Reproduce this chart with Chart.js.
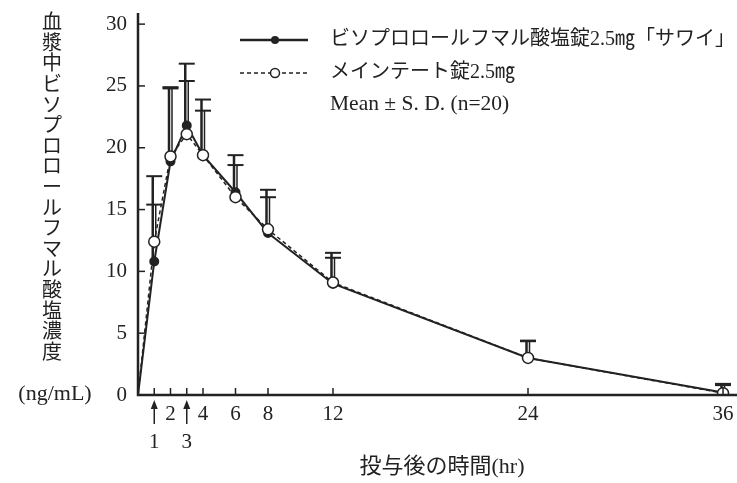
<!DOCTYPE html>
<html>
<head>
<meta charset="utf-8">
<script src="https://cdn.jsdelivr.net/npm/chart.js@4.4.1/dist/chart.umd.min.js"></script>
<style>
  body { margin: 0; background: #fff; }
  #wrap { width: 737px; height: 483px; }
</style>
</head>
<body>
<div id="wrap"><canvas id="chart"></canvas></div>
<script>
// hours after dosing
const times = [0, 1, 2, 3, 4, 6, 8, 12, 24, 36];
// ビソプロロールフマル酸塩錠2.5mg「サワイ」 (mean, mean+SD)
const sawaiMean  = [0, 10.8, 18.9, 21.8, 19.4, 16.4, 13.1, 9.0, 3.0, 0.2];
const sawaiUpper = [null, 17.7, 24.9, 26.8, 23.9, 19.4, 16.6, 11.5, 4.4, 0.9];
// メインテート錠2.5mg
const meinMean   = [0, 12.4, 19.3, 21.1, 19.4, 16.0, 13.4, 9.1, 3.0, 0.15];
const meinUpper  = [null, 15.4, 24.8, 25.4, 23.0, 18.6, 16.0, 11.1, 4.35, 0.8];

const xTicks = [1, 2, 3, 4, 6, 8, 12, 24, 36];
const xArrowTicks = [1, 3];   // dosing marks, label sits under an arrow
const yTicks = [0, 5, 10, 15, 20, 25, 30];

const legendLabels = ['ビソプロロールフマル酸塩錠2.5㎎「サワイ」', 'メインテート錠2.5㎎', 'Mean ± S. D. (n=20)'];
const yTitle = '血漿中ビソプロロールフマル酸塩濃度';
const yUnit = '(ng/mL)';
const xTitle = '投与後の時間(hr)';

const serif = '"Liberation Serif", "DejaVu Serif", "Noto Sans CJK JP", serif';
const ink = '#222';

const toXY = (means) => times.map((t, i) => ({ x: t, y: means[i] }));
// no marker at the origin
const radii = (r) => times.map(t => t === 0 ? 0 : r);

// axes, inside ticks, arrows, titles, legend, error bars
const decor = {
    id: 'decor',
    beforeDatasetsDraw(chart) {
        const { ctx, scales: { x, y } } = chart;
        const bars = [
            { upper: sawaiUpper, mean: sawaiMean, dx: -1.5, w: 2.5 },
            { upper: meinUpper, mean: meinMean, dx: 1.5, w: 1.5 }
        ];
        ctx.save();
        ctx.strokeStyle = ink;
        bars.forEach(b => {
            times.forEach((t, i) => {
                if (b.upper[i] == null) return;
                const px = x.getPixelForValue(t);
                const y0 = y.getPixelForValue(b.mean[i]);
                const y1 = y.getPixelForValue(b.upper[i]);
                ctx.lineWidth = b.w;
                ctx.beginPath();
                ctx.moveTo(px + b.dx, y0);
                ctx.lineTo(px + b.dx, y1);
                ctx.stroke();
                ctx.lineWidth = 2;
                ctx.beginPath();
                ctx.moveTo(px - 8, y1);
                ctx.lineTo(px + 8, y1);
                ctx.stroke();
            });
        });
        ctx.restore();
    },
    afterDraw(chart) {
        const { ctx, chartArea: a, scales: { x, y } } = chart;
        ctx.save();
        ctx.strokeStyle = ink;
        ctx.fillStyle = ink;

        // axis lines (x axis runs to the page edge)
        ctx.lineWidth = 2.5;
        ctx.beginPath();
        ctx.moveTo(a.left, a.top);
        ctx.lineTo(a.left, a.bottom);
        ctx.lineTo(chart.width, a.bottom);
        ctx.stroke();

        // inside tick marks
        ctx.lineWidth = 1.5;
        xTicks.forEach(t => {
            const px = x.getPixelForValue(t);
            ctx.beginPath();
            ctx.moveTo(px, a.bottom);
            ctx.lineTo(px, a.bottom - 7);
            ctx.stroke();
        });
        yTicks.forEach(v => {
            const py = y.getPixelForValue(v);
            ctx.beginPath();
            ctx.moveTo(a.left, py);
            ctx.lineTo(a.left + 7, py);
            ctx.stroke();
        });

        // dosing arrows
        xArrowTicks.forEach(t => {
            const px = x.getPixelForValue(t);
            ctx.lineWidth = 1.5;
            ctx.beginPath();
            ctx.moveTo(px, a.bottom + 29);
            ctx.lineTo(px, a.bottom + 12);
            ctx.stroke();
            ctx.beginPath();
            ctx.moveTo(px, a.bottom + 5);
            ctx.lineTo(px - 3.5, a.bottom + 14);
            ctx.lineTo(px + 3.5, a.bottom + 14);
            ctx.closePath();
            ctx.fill();
        });

        // y title, written vertically one character at a time
        ctx.font = '20px ' + serif;
        ctx.textAlign = 'center';
        ctx.textBaseline = 'middle';
        [...yTitle].forEach((ch, i) => {
            ctx.fillText(ch, 52, 24 + i * 20.6);
        });
        ctx.font = '22px ' + serif;
        ctx.fillText(yUnit, 55, 394);

        // x title
        ctx.fillText(xTitle, 442, 467);

        // legend
        const lx0 = 240, lx1 = 308, lm = 275, tx = 330;
        const rows = [40, 73, 104];
        ctx.lineWidth = 2.5;
        ctx.beginPath();
        ctx.moveTo(lx0, rows[0]);
        ctx.lineTo(lx1, rows[0]);
        ctx.stroke();
        ctx.beginPath();
        ctx.arc(lm, rows[0], 4, 0, Math.PI * 2);
        ctx.fill();

        ctx.lineWidth = 1.5;
        ctx.setLineDash([4, 3]);
        ctx.beginPath();
        ctx.moveTo(lx0, rows[1]);
        ctx.lineTo(lx1, rows[1]);
        ctx.stroke();
        ctx.setLineDash([]);
        ctx.fillStyle = '#fff';
        ctx.beginPath();
        ctx.arc(lm, rows[1], 4.5, 0, Math.PI * 2);
        ctx.fill();
        ctx.stroke();

        ctx.fillStyle = ink;
        ctx.textAlign = 'left';
        ctx.font = '20px ' + serif;
        ctx.fillText(legendLabels[0], tx, rows[0]);
        ctx.fillText(legendLabels[1], tx, rows[1]);
        ctx.font = '21.5px ' + serif;
        ctx.fillText(legendLabels[2], tx, rows[2]);
        ctx.restore();
    }
};

const ctx = document.getElementById('chart').getContext('2d');
new Chart(ctx, {
    type: 'line',
    data: {
        datasets: [
            {
                label: legendLabels[1],
                data: toXY(meinMean),
                borderColor: ink,
                borderWidth: 1.5,
                borderDash: [4, 3],
                pointRadius: radii(5.5),
                pointBackgroundColor: '#fff',
                pointBorderColor: ink,
                pointBorderWidth: 1.5,
                tension: 0,
                order: 1
            },
            {
                label: legendLabels[0],
                data: toXY(sawaiMean),
                borderColor: ink,
                borderWidth: 2,
                pointRadius: radii(4),
                pointBackgroundColor: ink,
                pointBorderColor: ink,
                tension: 0,
                order: 2
            }
        ]
    },
    options: {
        responsive: true,
        maintainAspectRatio: false,
        animation: false,
        layout: { padding: { top: 13, left: 0, right: 0, bottom: 0 } },
        plugins: {
            legend: { display: false },
            tooltip: { enabled: false }
        },
        scales: {
            x: {
                type: 'linear',
                min: 0,
                max: 36.43,
                afterBuildTicks: (scale) => { scale.ticks = xTicks.map(v => ({ value: v })); },
                afterFit: (scale) => {
                    scale.height = 88;
                    scale.paddingLeft = 0;
                    scale.paddingRight = 0;
                },
                grid: { display: false, drawTicks: false },
                border: { display: false },
                ticks: {
                    autoSkip: false,
                    maxRotation: 0,
                    padding: 5,
                    color: ink,
                    font: { family: serif, size: 21, lineHeight: 1.35 },
                    callback: (v) => xArrowTicks.includes(v) ? ['', String(v)] : String(v)
                }
            },
            y: {
                min: 0,
                max: 30.9,
                afterBuildTicks: (scale) => { scale.ticks = yTicks.map(v => ({ value: v })); },
                afterFit: (scale) => {
                    scale.width = 138;
                    scale.paddingTop = 0;
                    scale.paddingBottom = 0;
                },
                grid: { display: false, drawTicks: false },
                border: { display: false },
                ticks: {
                    padding: 11,
                    color: ink,
                    font: { family: serif, size: 21 }
                }
            }
        }
    },
    plugins: [decor]
});
</script>
</body>
</html>
